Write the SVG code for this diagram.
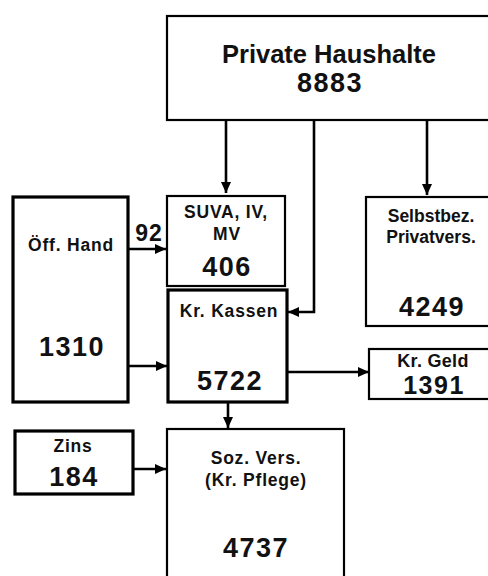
<svg xmlns="http://www.w3.org/2000/svg" width="488" height="576" viewBox="0 0 488 576">
<defs>
<marker id="ah" markerUnits="userSpaceOnUse" markerWidth="12" markerHeight="12" viewBox="0 0 12 12" refX="11" refY="6" orient="auto">
<path d="M0,1 L11,6 L0,11 Z" fill="#000"/>
</marker>
</defs>
<style>
.box{fill:#fff;stroke:#000;stroke-width:2.2}
.thick{stroke-width:3.2}
.con{fill:none;stroke:#000;stroke-width:2.6;marker-end:url(#ah)}
text{font-family:"Liberation Sans",Arial,Helvetica,sans-serif;font-weight:bold;fill:#111;text-anchor:middle}
.lab{font-size:17.5px;letter-spacing:0.8px}
.num{font-size:27px;letter-spacing:1.5px}
.title{font-size:25.5px}
</style>
<rect width="488" height="576" fill="#fff"/>
<g id="connectors">
<path class="con" d="M226,120 V193"/>
<path class="con" d="M314,120 V312 H288"/>
<path class="con" d="M427,120 V195"/>
<path class="con" d="M128,249 H166"/>
<path class="con" d="M128,366 H167"/>
<path class="con" d="M287,372 H369"/>
<path class="con" d="M228,402 V428"/>
<path class="con" d="M133,469 H166"/>
</g>
<g id="private-haushalte">
<rect class="box" x="167" y="16" width="330" height="104"/>
<text class="title" x="329" y="63">Private Haushalte</text>
<text class="num" x="330" y="92">8883</text>
</g>
<g id="oeff-hand">
<rect class="box thick" x="13" y="197" width="115" height="205"/>
<text class="lab" x="71" y="251">Öff. Hand</text>
<text class="num" x="72" y="356">1310</text>
</g>
<g id="label-92">
<text x="149" y="241" style="font-size:23px;letter-spacing:1px">92</text>
</g>
<g id="suva">
<rect class="box" x="167" y="196" width="118" height="90"/>
<text class="lab" x="226" y="218">SUVA, IV,</text>
<text class="lab" x="227" y="240">MV</text>
<text class="num" x="227" y="276">406</text>
</g>
<g id="kr-kassen">
<rect class="box thick" x="168" y="290" width="119" height="112"/>
<text class="lab" x="229" y="317">Kr. Kassen</text>
<text class="num" x="230" y="390">5722</text>
</g>
<g id="selbstbez">
<rect class="box" x="366" y="197" width="130" height="129"/>
<text class="lab" x="431" y="222" style="letter-spacing:0">Selbstbez.</text>
<text class="lab" x="431" y="243" style="letter-spacing:0">Privatvers.</text>
<text class="num" x="432" y="316">4249</text>
</g>
<g id="kr-geld">
<rect class="box" x="369" y="349" width="127" height="50"/>
<text class="lab" x="433" y="367" style="font-size:18px;letter-spacing:0.3px">Kr. Geld</text>
<text class="num" x="434" y="394" style="font-size:25px">1391</text>
</g>
<g id="zins">
<rect class="box thick" x="15" y="431" width="118" height="63"/>
<text class="lab" x="73" y="452">Zins</text>
<text class="num" x="74" y="486">184</text>
</g>
<g id="soz-vers">
<rect class="box" x="167" y="429" width="177" height="160"/>
<text class="lab" x="256" y="464">Soz. Vers.</text>
<text class="lab" x="256" y="486">(Kr. Pflege)</text>
<text class="num" x="256" y="557">4737</text>
</g>
</svg>
